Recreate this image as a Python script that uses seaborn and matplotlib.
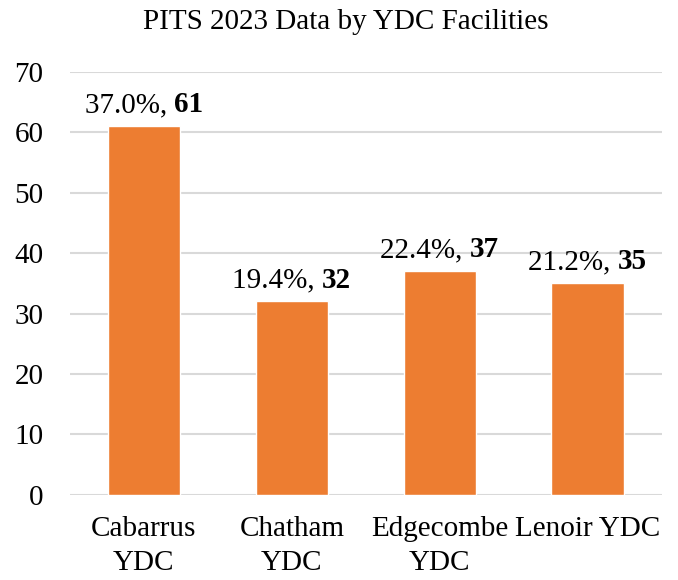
import pandas as pd
import seaborn as sns
import matplotlib.pyplot as plt
from matplotlib import transforms

# Chart data
facilities = ["Cabarrus\nYDC", "Chatham\nYDC", "Edgecombe\nYDC", "Lenoir YDC"]
counts = [61, 32, 37, 35]
percents = ["37.0%", "19.4%", "22.4%", "21.2%"]

df = pd.DataFrame({"facility": facilities, "count": counts})

sns.set_theme(style="white")
plt.rcParams['font.family'] = ['Liberation Serif', 'DejaVu Serif']
plt.rcParams['text.color'] = 'black'

FS = 21

fig = plt.figure(figsize=(6.78, 5.8), dpi=100)
ax = fig.add_axes([0.103, 0.147, 0.873, 0.729])

sns.barplot(data=df, x="facility", y="count", color="#ED7D31",
            width=0.49, saturation=1, ax=ax, order=facilities)

ax.set_ylim(0, 70)
ax.set_yticks(range(0, 71, 10))
ax.yaxis.grid(True, color="#d9d9d9", linewidth=1.5)
ax.set_axisbelow(True)
for s in ax.spines.values():
    s.set_visible(False)
ax.tick_params(axis="both", length=0, labelsize=FS, colors="black")
ax.tick_params(axis="y", pad=19)
ax.tick_params(axis="x", pad=15)
for lbl in ax.get_xticklabels():
    lbl.set_linespacing(1.4)
ax.set_xlabel("")
ax.set_ylabel("")
ax.set_xlim(-0.5, len(facilities) - 0.5)

fig.suptitle("PITS 2023 Data by YDC Facilities", fontsize=FS, x=0.51, y=0.985,
             color="black")

# Data labels: "xx.x%, " regular + bold count, centered over each bar
fig.canvas.draw()
renderer = fig.canvas.get_renderer()
px = 72.0 / fig.dpi
for i, (pct, n) in enumerate(zip(percents, counts)):
    t1 = ax.text(i, n, pct + ", ", fontsize=FS, ha="left", va="baseline", color="black")
    t2 = ax.text(i, n, str(n), fontsize=FS, fontweight="bold", ha="left", va="baseline", color="black")
    w1 = t1.get_window_extent(renderer).width
    w2 = t2.get_window_extent(renderer).width
    total = w1 + w2
    t1.set_transform(transforms.offset_copy(ax.transData, fig=fig, x=-total / 2 * px, y=10, units="points"))
    t2.set_transform(transforms.offset_copy(ax.transData, fig=fig, x=(-total / 2 + w1) * px, y=10, units="points"))

fig.savefig("out.png", dpi=100)
